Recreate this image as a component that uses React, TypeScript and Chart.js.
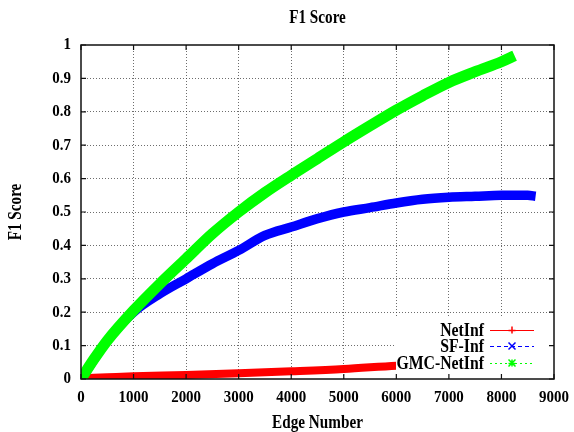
import { useEffect, useRef } from "react";
import { Chart, registerables } from "chart.js";

Chart.register(...registerables);

const xTicks = [0, 1000, 2000, 3000, 4000, 5000, 6000, 7000, 8000, 9000];
const yTicks = [0, 0.1, 0.2, 0.3, 0.4, 0.5, 0.6, 0.7, 0.8, 0.9, 1];
const xTickLabels = ["0", "1000", "2000", "3000", "4000", "5000", "6000", "7000", "8000", "9000"];
const yTickLabels = ["0", "0.1", "0.2", "0.3", "0.4", "0.5", "0.6", "0.7", "0.8", "0.9", "1"];

const seriesNames = ["NetInf", "SF-Inf", "GMC-NetInf"];

const netinfX = [0, 500, 1000, 2000, 3000, 4000, 5000, 6000, 7000, 7300];
const netinfY = [0.002, 0.005, 0.008, 0.012, 0.017, 0.023, 0.03, 0.04, 0.047, 0.05];

const sfX = [0, 500, 1000, 1500, 2000, 2500, 3000, 3500, 4000, 4500, 5000, 5500, 6000, 6500, 7000, 7500, 8000, 8500, 8650];
const sfY = [0, 0.115, 0.2, 0.255, 0.3, 0.345, 0.385, 0.43, 0.455, 0.48, 0.5, 0.513, 0.527, 0.538, 0.544, 0.547, 0.55, 0.55, 0.547];

const gmcX = [0, 250, 500, 1000, 1500, 2000, 2500, 3000, 3500, 4000, 4500, 5000, 5500, 6000, 6500, 7000, 7500, 8000, 8250];
const gmcY = [0, 0.06, 0.115, 0.205, 0.285, 0.36, 0.435, 0.5, 0.558, 0.61, 0.66, 0.71, 0.758, 0.805, 0.848, 0.888, 0.92, 0.95, 0.968];

const colors = ["#ff0000", "#0000ff", "#00ff00"];
const widths = [8, 9.5, 11];

const FONT = '"Liberation Serif", "Times New Roman", serif';

const toPoints = (xs: number[], ys: number[]) => xs.map((x, i) => ({ x, y: ys[i] }));

function txt(ctx: CanvasRenderingContext2D, s: string, x: number, y: number, size: number, align: CanvasTextAlign, sx: number) {
  ctx.save();
  ctx.translate(x, y);
  ctx.scale(sx, 1);
  ctx.font = `bold ${size}px ${FONT}`;
  ctx.textAlign = align;
  ctx.textBaseline = "middle";
  ctx.fillStyle = "#000";
  ctx.fillText(s, 0, 0);
  ctx.restore();
}

const overlay = {
  id: "overlay",
  afterDraw(chart: any) {
    const { ctx, chartArea: a, scales } = chart;
    const xs = scales.x;
    const ys = scales.y;
    ctx.save();

    // opaque key box
    ctx.fillStyle = "#ffffff";
    ctx.fillRect(a.right - 158, a.bottom - 63, 158, 63);

    // key entries
    const rowsY = [a.bottom - 49, a.bottom - 33, a.bottom - 16];
    const dashes = [[], [4, 3], [2, 3]];
    seriesNames.forEach((name, i) => {
      const yy = rowsY[i];
      txt(ctx, name, a.right - 70, yy + 1, 19, "right", 0.83);
      ctx.strokeStyle = colors[i];
      ctx.lineWidth = 1;
      ctx.setLineDash(dashes[i]);
      ctx.beginPath();
      ctx.moveTo(a.right - 64, yy + 0.5);
      ctx.lineTo(a.right - 20, yy + 0.5);
      ctx.stroke();
      ctx.setLineDash([]);
      const cx = a.right - 42;
      const s = 3.5;
      ctx.lineWidth = 1.5;
      ctx.beginPath();
      if (i === 0 || i === 2) {
        ctx.moveTo(cx - s, yy + 0.5);
        ctx.lineTo(cx + s, yy + 0.5);
        ctx.moveTo(cx, yy - s);
        ctx.lineTo(cx, yy + s);
      }
      if (i === 1 || i === 2) {
        ctx.moveTo(cx - s, yy - s);
        ctx.lineTo(cx + s, yy + s);
        ctx.moveTo(cx + s, yy - s);
        ctx.lineTo(cx - s, yy + s);
      }
      ctx.stroke();
    });

    // frame
    ctx.strokeStyle = "#111";
    ctx.lineWidth = 1.5;
    ctx.strokeRect(a.left, a.top, a.right - a.left, a.bottom - a.top);

    // inward ticks on all sides
    ctx.lineWidth = 1.2;
    ctx.beginPath();
    const tl = 5;
    xTicks.forEach((v) => {
      const px = xs.getPixelForValue(v);
      ctx.moveTo(px, a.bottom);
      ctx.lineTo(px, a.bottom - tl);
      ctx.moveTo(px, a.top);
      ctx.lineTo(px, a.top + tl);
    });
    yTicks.forEach((v) => {
      const py = ys.getPixelForValue(v);
      ctx.moveTo(a.left, py);
      ctx.lineTo(a.left + tl, py);
      ctx.moveTo(a.right, py);
      ctx.lineTo(a.right - tl, py);
    });
    ctx.stroke();

    // tick labels
    xTicks.forEach((v, i) => {
      txt(ctx, xTickLabels[i], xs.getPixelForValue(v), a.bottom + 19, 17, "center", 0.88);
    });
    yTicks.forEach((v, i) => {
      txt(ctx, yTickLabels[i], a.left - 10, ys.getPixelForValue(v), 17, "right", 0.88);
    });

    // titles
    const cx = (a.left + a.right) / 2;
    txt(ctx, "F1 Score", cx, 18, 19, "center", 0.8);
    txt(ctx, "Edge Number", cx, 423, 19, "center", 0.8);
    ctx.save();
    ctx.translate(16, (a.top + a.bottom) / 2);
    ctx.rotate(-Math.PI / 2);
    txt(ctx, "F1 Score", 0, 0, 19, "center", 0.8);
    ctx.restore();

    ctx.restore();
  },
};

const gridColor = (edgeVals: number[]) => (c: any) => {
  const v = c.tick ? c.tick.value : null;
  if (v === null || edgeVals.includes(v)) return "rgba(0,0,0,0)";
  return "rgba(60,60,60,0.75)";
};

export default function App() {
  const ref = useRef<HTMLCanvasElement | null>(null);

  useEffect(() => {
    if (!ref.current) return;
    const lineDs = (i: number, xs: number[], ys: number[], order: number) => ({
      label: seriesNames[i],
      data: toPoints(xs, ys),
      borderColor: colors[i],
      backgroundColor: colors[i],
      borderWidth: widths[i],
      pointRadius: 0,
      borderCapStyle: "butt",
      borderJoinStyle: "round",
      cubicInterpolationMode: "monotone",
      fill: false,
      order,
    });
    const chart = new Chart(ref.current, {
      type: "line",
      data: {
        datasets: [
          lineDs(0, netinfX, netinfY, 2),
          lineDs(1, sfX, sfY, 1),
          lineDs(2, gmcX, gmcY, 0),
        ] as any,
      },
      options: {
        animation: false,
        responsive: false,
        layout: { padding: { left: 0, top: 45, right: 20, bottom: 0 } },
        plugins: {
          legend: { display: false },
          title: { display: false },
          tooltip: { enabled: false },
        },
        scales: {
          x: {
            type: "linear",
            min: 0,
            max: 9000,
            afterBuildTicks: (s: any) => {
              s.ticks = xTicks.map((v) => ({ value: v }));
            },
            afterFit: (s: any) => {
              s.height = 53;
            },
            ticks: { display: false, autoSkip: false, maxRotation: 0 },
            grid: {
              drawTicks: false,
              lineWidth: 1,
              color: gridColor([0, 9000]),
            },
            border: { display: false, dash: [1, 2] },
          },
          y: {
            type: "linear",
            min: 0,
            max: 1,
            afterBuildTicks: (s: any) => {
              s.ticks = yTicks.map((v) => ({ value: v }));
            },
            afterFit: (s: any) => {
              s.width = 81;
            },
            ticks: { display: false, autoSkip: false },
            grid: {
              drawTicks: false,
              lineWidth: 1,
              color: gridColor([0, 1]),
            },
            border: { display: false, dash: [1, 2] },
          },
        },
      } as any,
      plugins: [overlay],
    });
    return () => chart.destroy();
  }, []);

  return (
    <div style={{ position: "fixed", left: 0, top: 0, width: 574, height: 432, background: "#fff" }}>
      <canvas ref={ref} width={574} height={432} style={{ display: "block" }} />
    </div>
  );
}
